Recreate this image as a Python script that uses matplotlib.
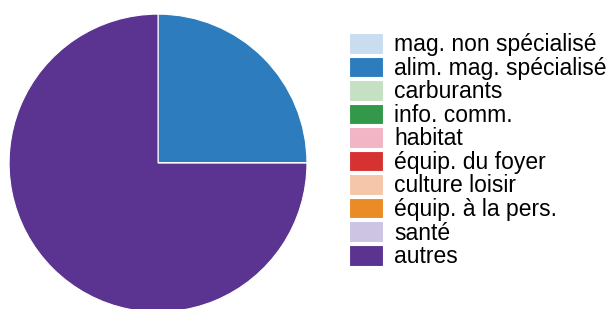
import matplotlib.pyplot as plt

plt.rcParams["font.family"] = ["Liberation Sans", "DejaVu Sans"]

# categories and shares (only two visible in the chart)
categories = [
    "mag. non spécialisé",
    "alim. mag. spécialisé",
    "carburants",
    "info. comm.",
    "habitat",
    "équip. du foyer",
    "culture loisir",
    "équip. à la pers.",
    "santé",
    "autres",
]
shares = [0, 25, 0, 0, 0, 0, 0, 0, 0, 75]
colors = [
    "#c9dcf0",
    "#2d7cbd",
    "#c5e0c3",
    "#32984a",
    "#f1b5c5",
    "#d63232",
    "#f6c6aa",
    "#ea8b25",
    "#cdc4e4",
    "#5a3490",
]

fig = plt.figure(figsize=(6.12, 3.09), dpi=100)
ax = fig.add_axes([0.0147, -0.0097, 0.487, 0.964])
wedges, _ = ax.pie(
    shares,
    colors=colors,
    startangle=90,
    counterclock=False,
    wedgeprops=dict(edgecolor="white", linewidth=0.8),
)
ax.set_xlim(-1, 1)
ax.set_ylim(-1, 1)
ax.set_aspect("equal")

fig.legend(
    wedges,
    categories,
    loc="upper left",
    bbox_to_anchor=(349 / 612, 1 - 33 / 309),
    frameon=False,
    fontsize=16.5,
    handlelength=1.48,
    handleheight=1.0,
    handletextpad=0.5,
    labelspacing=0.02,
    borderpad=0,
    borderaxespad=0,
)

fig.savefig("out.png", dpi=100)
